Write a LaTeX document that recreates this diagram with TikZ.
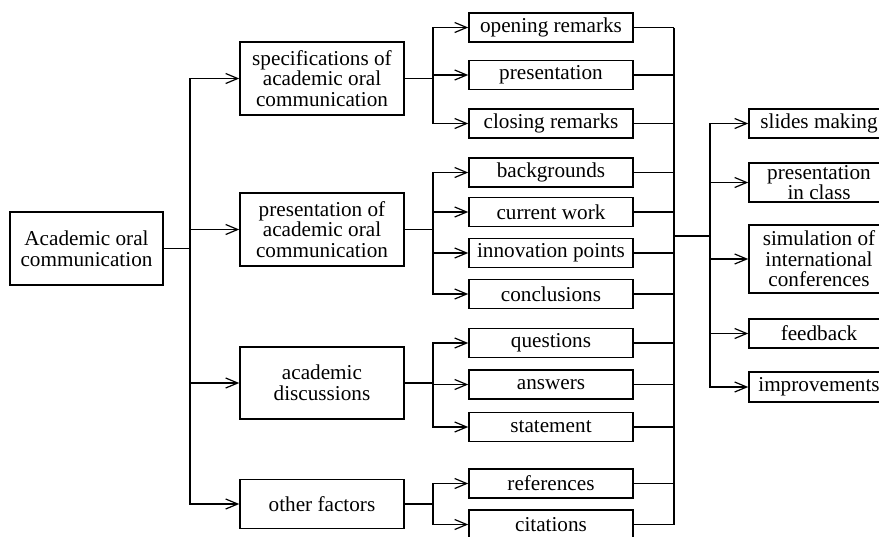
\documentclass[tikz,border=0pt]{standalone}
\usepackage{fontspec}
\setmainfont{Liberation Serif}
\usetikzlibrary{arrows.meta}

\tikzset{
	box/.style={draw,line width=0.75pt,align=center,inner sep=0pt,font=\fontsize{10.6}{10.3}\selectfont},
	lvlone/.style={box,minimum width=82pt},
	lvltwo/.style={box,minimum width=82pt,minimum height=14.5pt},
	lvlthree/.style={box,minimum width=70pt},
	arr/.style={-{Straight Barb[length=6pt,width=5pt,line width=0.6pt]}},
}

\begin{document}
\begin{tikzpicture}[x=0.5pt,y=-0.5pt,line width=0.75pt]
		\useasboundingbox (0,0) rectangle (879,536);
		% root and first level
		\node[box,minimum width=76.5pt,minimum height=36.5pt] (root) at (86.5,248.5) {Academic oral\\communication};
		\node[lvlone,minimum height=36.5pt] (spec) at (322,78.5) {specifications of\\academic oral\\communication};
		\node[lvlone,minimum height=36.5pt] (pres) at (322,229.5) {presentation of\\academic oral\\communication};
		\node[lvlone,minimum height=36pt] (acad) at (322,383) {academic\\discussions};
		\node[lvlone,minimum height=24.5pt] (other) at (322,504) {other factors};
		% second level
		\node[lvltwo] (open) at (551,27.5) {opening remarks};
		\node[lvltwo] (prest) at (551,75) {presentation};
		\node[lvltwo] (close) at (551,123.5) {closing remarks};
		\node[lvltwo] (back) at (551,172.5) {backgrounds};
		\node[lvltwo] (curr) at (551,212) {current work};
		\node[lvltwo] (innov) at (551,253) {innovation points};
		\node[lvltwo] (concl) at (551,294) {conclusions};
		\node[lvltwo] (quest) at (551,343) {questions};
		\node[lvltwo] (answ) at (551,384.5) {answers};
		\node[lvltwo] (state) at (551,427) {statement};
		\node[lvltwo] (refs) at (551,483.5) {references};
		\node[lvltwo] (cite) at (551,524.5) {citations};
		% third level
		\node[lvlthree,minimum height=14.5pt] (slides) at (819,123.5) {slides making};
		\node[lvlthree,minimum height=19.5pt] (inclass) at (819,182.5) {presentation\\in class};
		\node[lvlthree,minimum height=34pt] (simul) at (819,259) {simulation of\\international\\conferences};
		\node[lvlthree,minimum height=14.5pt] (feed) at (819,333.5) {feedback};
		\node[lvlthree,minimum height=15pt] (improv) at (819,387) {improvements};
		% junctions
		\coordinate (j1) at (190,248.5);
		\coordinate (j2) at (433,0);
		\coordinate (j3) at (674,236);
		\coordinate (j4) at (710,236);
		\foreach \n in {spec,pres,acad,other}
			\draw[arr] (root.east) -- (j1) |- (\n.west);
		\foreach \n in {open,prest,close}
			\draw[arr] (spec.east) -- (spec.east -| j2) |- (\n.west);
		\foreach \n in {back,curr,innov,concl}
			\draw[arr] (pres.east) -- (pres.east -| j2) |- (\n.west);
		\foreach \n in {quest,answ,state}
			\draw[arr] (acad.east) -- (acad.east -| j2) |- (\n.west);
		\foreach \n in {refs,cite}
			\draw[arr] (other.east) -- (other.east -| j2) |- (\n.west);
		\foreach \n in {open,prest,close,back,curr,innov,concl,quest,answ,state,refs,cite}
			\draw (\n.east) -- (\n.east -| j3);
		\draw (open.east -| j3) -- (cite.east -| j3);
		\draw (j3) -- (j4);
		\foreach \n in {slides,inclass,simul,feed,improv}
			\draw[arr] (j4) |- (\n.west);
\end{tikzpicture}
\end{document}
